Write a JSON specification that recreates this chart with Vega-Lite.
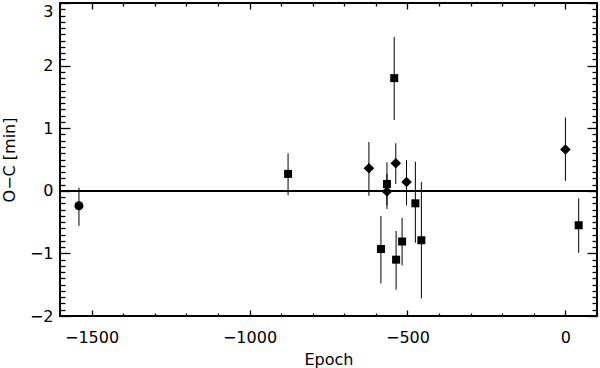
{
  "$schema": "https://vega.github.io/schema/vega-lite/v6.json",
  "width": 537,
  "height": 313,
  "autosize": {"type": "none"},
  "padding": {"left": 60, "top": 3, "right": 3, "bottom": 52},
  "background": "white",
  "config": {
    "view": {"stroke": "black", "strokeWidth": 2},
    "axis": {
      "labelFont": "DejaVu Sans", "labelFontSize": 16, "labelColor": "black",
      "titleFont": "DejaVu Sans", "titleFontSize": 16, "titleFontWeight": "normal", "titleColor": "black",
      "domain": false, "ticks": true, "tickColor": "black", "tickOpacity": 1, "grid": false, "tickWidth": 1.3
    }
  },
  "data": {"values": [
    {"epoch": -1540, "oc": -0.24, "lo": -0.56, "hi": 0.05, "shape": "circle"},
    {"epoch": -878, "oc": 0.27, "lo": -0.07, "hi": 0.60, "shape": "square"},
    {"epoch": -622, "oc": 0.36, "lo": -0.08, "hi": 0.78, "shape": "diamond"},
    {"epoch": -584, "oc": -0.93, "lo": -1.48, "hi": -0.40, "shape": "square"},
    {"epoch": -565, "oc": 0.11, "lo": -0.23, "hi": 0.455, "shape": "square"},
    {"epoch": -565, "oc": -0.01, "lo": -0.29, "hi": 0.27, "shape": "diamond"},
    {"epoch": -542, "oc": 1.80, "lo": 1.13, "hi": 2.46, "shape": "square"},
    {"epoch": -537, "oc": 0.44, "lo": 0.11, "hi": 0.76, "shape": "diamond"},
    {"epoch": -536, "oc": -1.10, "lo": -1.58, "hi": -0.64, "shape": "square"},
    {"epoch": -517, "oc": -0.81, "lo": -1.19, "hi": -0.43, "shape": "square"},
    {"epoch": -503, "oc": 0.14, "lo": -0.23, "hi": 0.49, "shape": "diamond"},
    {"epoch": -475, "oc": -0.20, "lo": -0.83, "hi": 0.465, "shape": "square"},
    {"epoch": -456, "oc": -0.79, "lo": -1.72, "hi": 0.14, "shape": "square"},
    {"epoch": 0, "oc": 0.66, "lo": 0.16, "hi": 1.17, "shape": "diamond"},
    {"epoch": 42, "oc": -0.55, "lo": -0.99, "hi": -0.12, "shape": "square"}
  ]},
  "resolve": {"axis": {"x": "independent", "y": "independent"}},
  "layer": [
    {
      "mark": {"type": "rule", "color": "black", "strokeWidth": 1},
      "encoding": {
        "x": {"field": "epoch", "type": "quantitative",
              "scale": {"domain": [-1600, 100], "nice": false, "zero": false},
              "axis": {"orient": "bottom", "values": [-1500, -1000, -500, 0], "format": "d", "offset": -6, "tickSize": 6, "labelPadding": 13, "title": "Epoch", "titlePadding": 6}},
        "y": {"field": "lo", "type": "quantitative",
              "scale": {"domain": [-2, 3], "nice": false, "zero": false},
              "axis": {"orient": "left", "values": [-2, -1, 0, 1, 2, 3], "format": "d", "offset": -10, "tickSize": 10, "labelPadding": 7,
                       "labelBaseline": {"condition": {"test": "datum.value == 3", "value": "top"}, "value": "middle"},
                       "title": "O−C [min]", "titlePadding": 12}},
        "y2": {"field": "hi"}
      }
    },
    {
      "mark": {"type": "point", "filled": true, "color": "black", "opacity": 1},
      "encoding": {
        "x": {"field": "epoch", "type": "quantitative",
              "axis": {"orient": "bottom", "values": [-1600, -1400, -1300, -1200, -1100, -900, -800, -700, -600, -400, -300, -200, -100, 100], "offset": -3, "tickSize": 3, "labels": false, "title": null}},
        "y": {"field": "oc", "type": "quantitative",
              "axis": {"orient": "left", "values": [-1.9, -1.8, -1.7, -1.6, -1.5, -1.4, -1.3, -1.2, -1.1, -0.9, -0.8, -0.7, -0.6, -0.5, -0.4, -0.3, -0.2, -0.1, 0.1, 0.2, 0.3, 0.4, 0.5, 0.6, 0.7, 0.8, 0.9, 1.1, 1.2, 1.3, 1.4, 1.5, 1.6, 1.7, 1.8, 1.9, 2.1, 2.2, 2.3, 2.4, 2.5, 2.6, 2.7, 2.8, 2.9], "offset": -5, "tickSize": 5, "labels": false, "title": null}},
        "shape": {"field": "shape", "type": "nominal", "scale": {"domain": ["circle", "square", "diamond"], "range": ["circle", "square", "diamond"]}, "legend": null},
        "size": {"field": "shape", "type": "nominal", "scale": {"type": "ordinal", "domain": ["circle", "square", "diamond"], "range": [82, 64, 112]}, "legend": null}
      }
    },
    {
      "mark": {"type": "point", "opacity": 0},
      "encoding": {
        "x": {"field": "epoch", "type": "quantitative",
              "axis": {"orient": "top", "values": [-1500, -1000, -500, 0], "offset": -6, "tickSize": 6, "labels": false, "title": null}},
        "y": {"field": "oc", "type": "quantitative",
              "axis": {"orient": "right", "values": [-2, -1, 0, 1, 2, 3], "offset": -10, "tickSize": 10, "labels": false, "title": null}}
      }
    },
    {
      "mark": {"type": "point", "opacity": 0},
      "encoding": {
        "x": {"field": "epoch", "type": "quantitative",
              "axis": {"orient": "top", "values": [-1600, -1400, -1300, -1200, -1100, -900, -800, -700, -600, -400, -300, -200, -100, 100], "offset": -3, "tickSize": 3, "labels": false, "title": null}},
        "y": {"field": "oc", "type": "quantitative",
              "axis": {"orient": "right", "values": [-1.9, -1.8, -1.7, -1.6, -1.5, -1.4, -1.3, -1.2, -1.1, -0.9, -0.8, -0.7, -0.6, -0.5, -0.4, -0.3, -0.2, -0.1, 0.1, 0.2, 0.3, 0.4, 0.5, 0.6, 0.7, 0.8, 0.9, 1.1, 1.2, 1.3, 1.4, 1.5, 1.6, 1.7, 1.8, 1.9, 2.1, 2.2, 2.3, 2.4, 2.5, 2.6, 2.7, 2.8, 2.9], "offset": -5, "tickSize": 5, "labels": false, "title": null}}
      }
    },
    {
      "mark": {"type": "rule", "color": "black", "strokeWidth": 1},
      "encoding": {"y": {"datum": 0, "type": "quantitative", "axis": null}}
    }
  ]
}
